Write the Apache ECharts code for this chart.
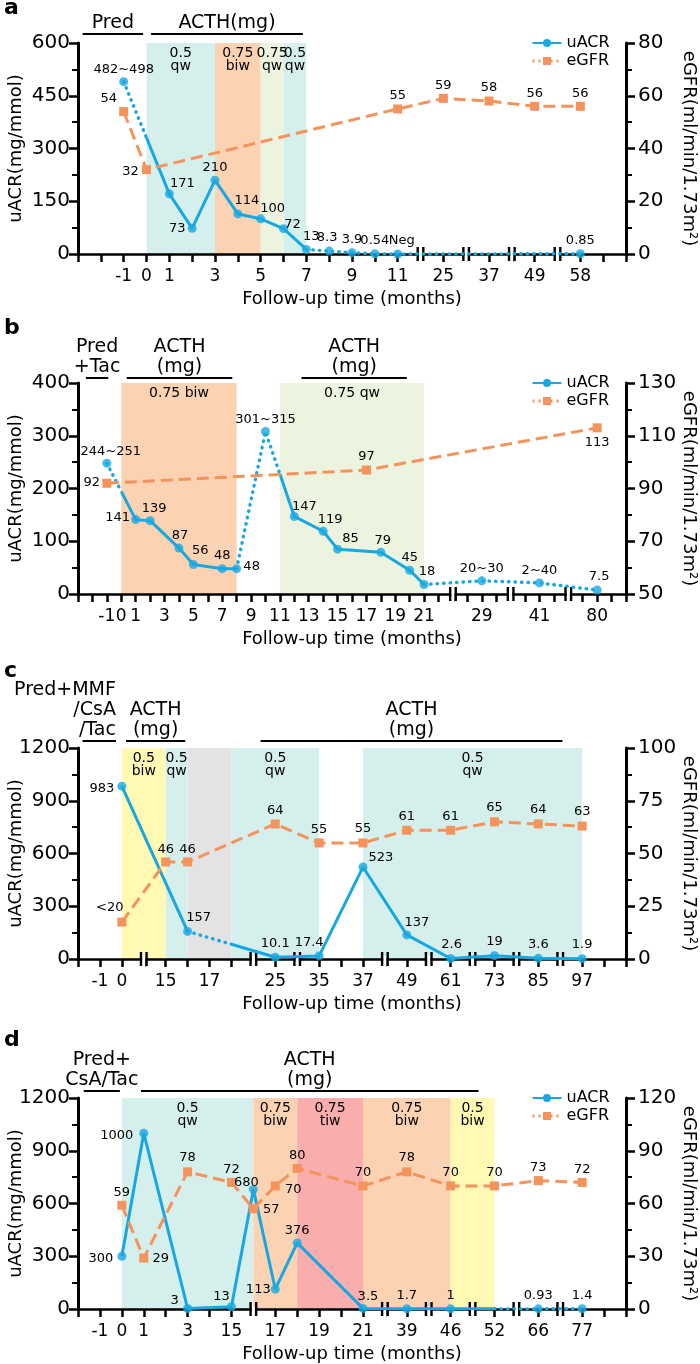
<!DOCTYPE html>
<html><head><meta charset="utf-8">
<script src="https://cdn.jsdelivr.net/npm/echarts@6/dist/echarts.min.js"></script>
<style>html,body{margin:0;padding:0;background:#fff}#c{width:700px;height:1364px}</style>
</head><body><div id="c"></div>
<script>
// ===== Panel a =====
const aTickSlot = [2,3,4,6,8,10,12,14,16,18,20,22];
const aTickText = ['-1','0','1','3','5','7','9','11','25','37','49','58'];
const aBreakSlot = [15,17,19,21];
const aUacrSlot = [2,4,5,6,7,8,9,10,11,12,13,14,22];
const aUacrVal  = [490,171,73,210,114,100,72,13,8.3,3.9,0.54,0,0.85];
const aUacrText = ['482~498','171','73','210','114','100','72','13','8.3','3.9','0.54','Neg','0.85'];
const aEgfrSlot = [2,3,14,16,18,20,22];
const aEgfrVal  = [54,32,55,59,58,56,56];
const aPhaseFrom = [3,6,8,9];
const aPhaseTo   = [6,8,9,10];
const aPhaseDose = ['0.5 qw','0.75 biw','0.75 qw','0.5 qw'];
const aNoteText = ['Pred','ACTH(mg)'];
const aNoteFrom = [0.2,3.2];
const aNoteTo   = [2.85,9.85];

// ===== Panel b =====
const bTickSlot = [2,3,4,6,8,10,12,14,16,18,20,22,24,28,32,36];
const bTickText = ['-1','0','1','3','5','7','9','11','13','15','17','19','21','29','41','80'];
const bBreakSlot = [26,30,34];
const bUacrSlot = [2,4,5,7,8,10,11,13,15,17,18,21,23,24,28,32,36];
const bUacrVal  = [248,141,139,87,56,48,48,308,147,119,85,79,45,18,25,21,7.5];
const bUacrText = ['244~251','141','139','87','56','48','48','301~315','147','119','85','79','45','18','20~30','2~40','7.5'];
const bEgfrSlot = [2,20,36];
const bEgfrVal  = [92,97,113];
const bPhaseFrom = [3,14];
const bPhaseTo   = [11,24];
const bPhaseDose = ['0.75 biw','0.75 qw'];
const bNoteText = ['Pred\n+Tac','ACTH\n(mg)','ACTH\n(mg)'];
const bNoteFrom = [0.55,3.38,15.5];
const bNoteTo   = [2.1,10.7,22.8];

// ===== Panel c =====
const cTickSlot = [1,2,4,6,9,11,13,15,17,19,21,23];
const cTickText = ['-1','0','15','17','25','35','37','49','61','73','85','97'];
const cBreakSlot = [3,8,10,14,16,18,20,22];
const cUacrSlot = [2,5,9,11,13,15,17,19,21,23];
const cUacrVal  = [983,157,10.1,17.4,523,137,2.6,19,3.6,1.9];
const cUacrText = ['983','157','10.1','17.4','523','137','2.6','19','3.6','1.9'];
const cEgfrSlot = [2,4,5,9,11,13,15,17,19,21,23];
const cEgfrVal  = [17.5,46,46,64,55,55,61,61,65,64,63];
const cEgfrText = ['<20','46','46','64','55','55','61','61','65','64','63'];
const cPhaseFrom = [2,4,5,7,13];
const cPhaseTo   = [4,5,7,11,23];
const cPhaseDose = ['0.5 biw','0.5 qw','','0.5 qw','0.5 qw'];
const cNoteText = ['Pred+MMF\n/CsA\n/Tac','ACTH\n(mg)','ACTH\n(mg)'];
const cNoteFrom = [0.21,2.19,8.33];
const cNoteTo   = [1.73,4.89,22.1];

// ===== Panel d =====
const dTickSlot = [1,2,3,5,7,9,11,13,15,17,19,21,23];
const dTickText = ['-1','0','1','3','15','17','19','21','39','46','52','66','77'];
const dBreakSlot = [8,14,16,18,20,22];
const dUacrSlot = [2,3,5,7,8,9,10,13,15,17,19,21,23];
const dUacrVal  = [300,1000,3,13,680,113,376,3.5,1.7,1,1,0.93,1.4];
const dUacrText = ['300','1000','3','13','680','113','376','3.5','1.7','1',null,'0.93','1.4'];
const dEgfrSlot = [2,3,5,7,8,9,10,13,15,17,19,21,23];
const dEgfrVal  = [59,29,78,72,57,70,80,70,78,70,70,73,72];
const dPhaseFrom = [2,8,10,13,17];
const dPhaseTo   = [8,10,13,17,19];
const dPhaseDose = ['0.5 qw','0.75 biw','0.75 tiw','0.75 biw','0.5 biw'];
const dNoteText = ['Pred+\nCsA/Tac','ACTH\n(mg)'];
const dNoteFrom = [0.26,2.87];
const dNoteTo   = [1.91,18.27];

// ===== styles / layout =====
const BLUE = '#18A7E1', ORANGE = '#F4935C', INK = '#000000', FONT = 'DejaVu Sans';
const REGIMEN_COLOR = {'0.5 qw':'#D5EFEC','0.75 biw':'#FBD3B3','0.75 qw':'#ECF3DF','0.5 biw':'#FFF9B3','0.75 tiw':'#F9ADAD','':'#E3E3E3'};

const panels = [
  {top:43, xMax:24, yMax:600, yInt:150, rMin:0, rMax:80, rInt:20, twoLineDose:true, noteGap:9, legendTop:35,
   tickSlot:aTickSlot, tickText:aTickText, breaks:aBreakSlot,
   uSlot:aUacrSlot, uVal:aUacrVal, uText:aUacrText, eSlot:aEgfrSlot, eVal:aEgfrVal, eText:aEgfrVal.map(String),
   pFrom:aPhaseFrom, pTo:aPhaseTo, pDose:aPhaseDose, nText:aNoteText, nFrom:aNoteFrom, nTo:aNoteTo, nAlign:['center','center'],
   seg:[['dot',2,3],['solid',3,10],['dot',10,22]],
   uOff:[[0,-12],[13,-10],[-15,0],[0,-13],[9,-13],[12,-10],[9,-4],[5,-13],[-2,-13],[0,-13],[0,-13],[4,-13],[0,-13]],
   eOff:[[-15,-13],[-16,2],[0,-13],[0,-13],[0,-13],[0,-13],[0,-13]]},
  {top:383, xMax:38, yMax:400, yInt:100, rMin:50, rMax:130, rInt:20, twoLineDose:false, noteGap:5, legendTop:375,
   tickSlot:bTickSlot, tickText:bTickText, breaks:bBreakSlot,
   uSlot:bUacrSlot, uVal:bUacrVal, uText:bUacrText, eSlot:bEgfrSlot, eVal:bEgfrVal, eText:bEgfrVal.map(String),
   pFrom:bPhaseFrom, pTo:bPhaseTo, pDose:bPhaseDose, nText:bNoteText, nFrom:bNoteFrom, nTo:bNoteTo, nAlign:['center','center','center'],
   seg:[['dot',2,3],['solid',3,11],['dot',11,14],['solid',14,24],['dot',24,36]],
   uOff:[[4,-12],[-18,-2],[4,-12],[1,-12],[7,-14],[0,-13],[15,-2],[0,-12],[10,-10],[7,-12],[13,-11],[2,-12],[0,-13],[3,-13],[0,-12],[0,-12],[2,-13]],
   eOff:[[-15,-1],[0,-13],[0,15]]},
  {top:748, xMax:25, yMax:1200, yInt:300, rMin:0, rMax:100, rInt:25, twoLineDose:true, noteGap:7, legendTop:null,
   tickSlot:cTickSlot, tickText:cTickText, breaks:cBreakSlot,
   uSlot:cUacrSlot, uVal:cUacrVal, uText:cUacrText, eSlot:cEgfrSlot, eVal:cEgfrVal, eText:cEgfrText,
   pFrom:cPhaseFrom, pTo:cPhaseTo, pDose:cPhaseDose, nText:cNoteText, nFrom:cNoteFrom, nTo:cNoteTo, nAlign:['right','center','center'],
   seg:[['solid',2,5],['dot',5,7],['solid',7,23]],
   uOff:[[-20,2],[11,-14],[0,-14],[-10,-13],[18,-9],[10,-12],[1,-14],[0,-14],[0,-14],[0,-14]],
   eOff:[[-12,-14],[0,-12],[0,-12],[0,-13],[0,-13],[0,-14],[0,-14],[0,-14],[0,-14],[0,-14],[0,-14]]},
  {top:1098, xMax:25, yMax:1200, yInt:300, rMin:0, rMax:120, rInt:30, twoLineDose:true, noteGap:7, legendTop:1090,
   tickSlot:dTickSlot, tickText:dTickText, breaks:dBreakSlot,
   uSlot:dUacrSlot, uVal:dUacrVal, uText:dUacrText, eSlot:dEgfrSlot, eVal:dEgfrVal, eText:dEgfrVal.map(String),
   pFrom:dPhaseFrom, pTo:dPhaseTo, pDose:dPhaseDose, nText:dNoteText, nFrom:dNoteFrom, nTo:dNoteTo, nAlign:['center','center'],
   seg:[['solid',2,19],['dot',19,23]],
   uOff:[[-21,2],[-27,2],[-13,-8],[-10,-10],[-7,-7],[-17,0],[0,-12],[5,-12],[0,-13],[0,-13],[0,0],[0,-13],[0,-13]],
   eOff:[[0,-13],[17,1],[0,-14],[0,-13],[18,1],[18,4],[0,-13],[0,-13],[0,-14],[0,-13],[0,-13],[0,-13],[0,-13]]}
];
const GRID_H = 211;

// value of the drawn polyline at a slot (used only to split line-style segments)
function lineAt(slots, vals, s) {
  for (let i = 0; i < slots.length - 1; i++) {
    if (s >= slots[i] && s <= slots[i+1]) {
      const t = (s - slots[i]) / (slots[i+1] - slots[i]);
      return vals[i] + t * (vals[i+1] - vals[i]);
    }
  }
  return null;
}
function segData(slots, vals, from, to) {
  const pts = [];
  if (!slots.includes(from)) pts.push([from, lineAt(slots, vals, from)]);
  slots.forEach((s, i) => { if (s >= from && s <= to) pts.push([s, vals[i]]); });
  if (!slots.includes(to)) pts.push([to, lineAt(slots, vals, to)]);
  return pts;
}

const grids = [], xAxes = [], yAxes = [], series = [], legends = [];
const labelBase = {show:true, position:'inside', color:INK, fontSize:13, fontFamily:FONT, textBorderWidth:0, opacity:1};

panels.forEach((p, i) => {
  grids.push({left:78, right:74, top:p.top, height:GRID_H, outerBoundsMode:'none', containLabel:false});
  xAxes.push({type:'value', gridIndex:i, min:0, max:p.xMax, interval:1, z:2,
    name:'Follow-up time (months)', nameLocation:'middle', nameGap:36, nameMoveOverlap:false,
    nameTextStyle:{fontSize:18, color:INK, fontFamily:FONT},
    axisLine:{show:true, onZero:false, lineStyle:{color:INK, width:2.5}},
    axisTick:{show:true, length:8, lineStyle:{color:INK, width:2.5}},
    splitLine:{show:false},
    axisLabel:{fontSize:17, color:INK, margin:14, fontFamily:FONT, hideOverlap:false,
      formatter: v => { const k = p.tickSlot.indexOf(v); return k >= 0 ? p.tickText[k] : ''; }}});
  const yCommon = {type:'value', gridIndex:i, z:2, nameLocation:'middle', nameMoveOverlap:false,
    nameTextStyle:{fontSize:18, color:INK, fontFamily:FONT},
    axisLine:{show:true, onZero:false, lineStyle:{color:INK, width:3}},
    axisTick:{show:true, length:9, lineStyle:{color:INK, width:2.5}},
    minorTick:{show:true, splitNumber:2, length:6, lineStyle:{color:INK, width:2}},
    splitLine:{show:false}, minorSplitLine:{show:false}};
  yAxes.push(Object.assign({}, yCommon, {position:'left', min:0, max:p.yMax, interval:p.yInt,
    name:'uACR(mg/mmol)', nameRotate:90, nameGap:53,
    axisLabel:{fontSize:20, color:INK, margin:8, fontFamily:FONT, formatter: v => String(v)}}));
  yAxes.push(Object.assign({}, yCommon, {position:'right', min:p.rMin, max:p.rMax, interval:p.rInt,
    name:'eGFR(ml/min/1.73m²)', nameRotate:-90, nameGap:54,
    axisLabel:{fontSize:20, color:INK, margin:12, fontFamily:FONT, formatter: v => String(v)}}));
  const yL = 2*i, yR = 2*i + 1;

  // treatment shading
  series.push({type:'line', name:'phase', xAxisIndex:i, yAxisIndex:yL, data:[], z:1, silent:true,
    markArea:{silent:true, data: p.pFrom.map((f, k) => [
      {xAxis:f, name: p.twoLineDose ? p.pDose[k].replace(' ', '\n') : p.pDose[k],
       itemStyle:{color:REGIMEN_COLOR[p.pDose[k]]},
       label:{show:true, position:'insideTop', distance:4, color:INK, fontSize:14, lineHeight:13, fontFamily:FONT}},
      {xAxis:p.pTo[k]}])}});

  // axis breaks
  series.push({type:'custom', name:'break', xAxisIndex:i, yAxisIndex:yL, z:3, silent:true, clip:false,
    data: p.breaks.map(s => [s, 0]), encode:{x:0, y:1},
    renderItem: (params, api) => {
      const c = api.coord([api.value(0), api.value(1)]);
      const x = c[0], y = c[1];
      return {type:'group', children:[
        {type:'rect', shape:{x:x-1.6, y:y-3, width:3.2, height:13}, style:{fill:'#fff'}},
        {type:'line', shape:{x1:x-2.8, y1:y-7, x2:x-2.8, y2:y+7}, style:{stroke:INK, lineWidth:2.4}},
        {type:'line', shape:{x1:x+2.8, y1:y-7, x2:x+2.8, y2:y+7}, style:{stroke:INK, lineWidth:2.4}}
      ]};
    }});

  // treatment brackets above the plot
  series.push({type:'custom', name:'note', xAxisIndex:i, yAxisIndex:yL, z:3, silent:true, clip:false,
    data: p.nFrom.map((f, k) => [f, p.nTo[k], p.yMax]), encode:{x:[0,1], y:2},
    renderItem: (params, api) => {
      const k = params.dataIndex;
      const a = api.coord([api.value(0), api.value(2)]);
      const b = api.coord([api.value(1), api.value(2)]);
      const y = a[1] - p.noteGap;
      const align = p.nAlign[k];
      const tx = align === 'right' ? b[0] : (a[0] + b[0]) / 2;
      return {type:'group', children:[
        {type:'line', shape:{x1:a[0], y1:y, x2:b[0], y2:y}, style:{stroke:INK, lineWidth:2}},
        {type:'text', x:tx, y:y-1, style:{text:p.nText[k], fill:INK, fontSize:19, fontFamily:FONT,
          align:align, verticalAlign:'bottom', lineHeight:20}}
      ]};
    }});

  // uACR line segments
  p.seg.forEach(sg => {
    const dotted = sg[0] === 'dot';
    series.push({type:'line', name: dotted ? 'uACR (dotted)' : 'uACR (line)', xAxisIndex:i, yAxisIndex:yL, z:4,
      silent:true, symbol:'none', data: segData(p.uSlot, p.uVal, sg[1], sg[2]),
      lineStyle:{color:BLUE, width: dotted ? 3.4 : 3, type: dotted ? [0.5, 6] : 'solid', cap: dotted ? 'round' : 'butt'}});
  });
  // uACR markers + labels
  series.push({type:'scatter', name:'uACR points', xAxisIndex:i, yAxisIndex:yL, z:5, silent:true,
    symbol:'circle', symbolSize:9, itemStyle:{color:BLUE},
    data: p.uSlot.map((s, k) => p.uText[k] === null ? null : {value:[s, p.uVal[k]],
      label:Object.assign({}, labelBase, {offset:p.uOff[k], formatter:p.uText[k]})}).filter(d => d)});
  // eGFR
  series.push({type:'line', name:'eGFR', xAxisIndex:i, yAxisIndex:yR, z:4, silent:true,
    symbol:'rect', symbolSize:9, itemStyle:{color:ORANGE},
    lineStyle:{color:ORANGE, width:3, type:[12,6]},
    data: p.eSlot.map((s, k) => ({value:[s, p.eVal[k]],
      label:Object.assign({}, labelBase, {offset:p.eOff[k], formatter:p.eText[k]})}))});

  if (p.legendTop !== null) {
    legends.push({orient:'vertical', left:531, top:p.legendTop, itemWidth:29, itemHeight:10, itemGap:2, padding:0,
      selectedMode:false, textStyle:{fontSize:16, color:INK, fontFamily:FONT},
      data:[{name:'uACR'}, {name:'eGFR', lineStyle:{type:[2,4], width:3}}]});
  }
});

// legend carrier for uACR (solid line with circle)
series.push({type:'line', name:'uACR', xAxisIndex:0, yAxisIndex:0, data:[], symbol:'circle', symbolSize:9,
  itemStyle:{color:BLUE}, lineStyle:{color:BLUE, width:3}});

const letters = [['a',-3],['b',317],['c',660],['d',1029]];
const chart = echarts.init(document.getElementById('c'), null, {renderer:'canvas'});
chart.setOption({
  animation:false,
  backgroundColor:'#fff',
  textStyle:{fontFamily:FONT, color:INK},
  grid:grids, xAxis:xAxes, yAxis:yAxes, series:series, legend:legends,
  graphic: letters.map(l => ({type:'text', left:4, top:l[1],
    style:{text:l[0], fontSize:22, fontWeight:'bold', fontFamily:FONT, fill:INK}}))
});
</script></body></html>
